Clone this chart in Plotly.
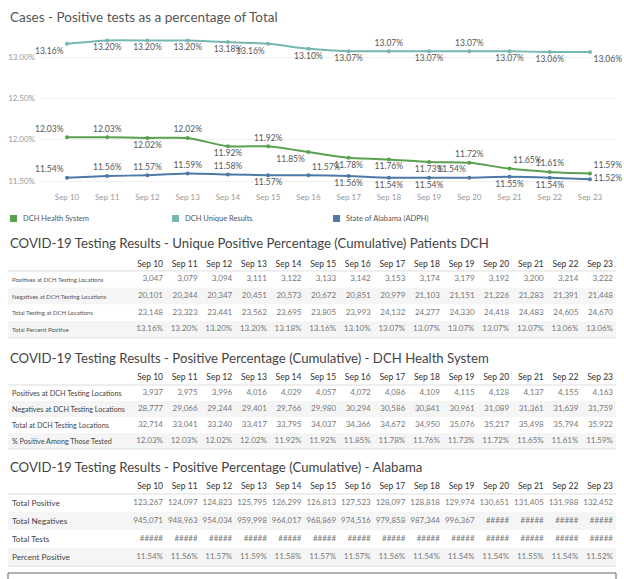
import plotly.graph_objects as go

W, H = 624, 579
FONT = "Lato"

# ---------------- data ----------------
dates = ["Sep 10", "Sep 11", "Sep 12", "Sep 13", "Sep 14", "Sep 15", "Sep 16",
         "Sep 17", "Sep 18", "Sep 19", "Sep 20", "Sep 21", "Sep 22", "Sep 23"]

dch_health_pct = [12.03, 12.03, 12.02, 12.02, 11.92, 11.92, 11.85, 11.78, 11.76, 11.73, 11.72, 11.65, 11.61, 11.59]
dch_unique_pct = [13.16, 13.20, 13.20, 13.20, 13.18, 13.16, 13.10, 13.07, 13.07, 13.07, 13.07, 13.07, 13.06, 13.06]
alabama_pct = [11.54, 11.56, 11.57, 11.59, 11.58, 11.57, 11.57, 11.56, 11.54, 11.54, 11.54, 11.55, 11.54, 11.52]

y_ticks = [11.5, 12.0, 12.5, 13.0]

# Table 1 - unique patients DCH
t1_positives = [3047, 3079, 3094, 3111, 3122, 3133, 3142, 3153, 3174, 3179, 3192, 3200, 3214, 3222]
t1_negatives = [20101, 20244, 20347, 20451, 20573, 20672, 20851, 20979, 21103, 21151, 21226, 21283, 21391, 21448]
t1_total = [23148, 23323, 23441, 23562, 23695, 23805, 23993, 24132, 24277, 24330, 24418, 24483, 24605, 24670]

# Table 2 - DCH Health System
t2_positives = [3937, 3975, 3996, 4016, 4029, 4057, 4072, 4086, 4109, 4115, 4128, 4137, 4155, 4163]
t2_negatives = [28777, 29066, 29244, 29401, 29766, 29980, 30294, 30586, 30841, 30961, 31089, 31361, 31639, 31759]
t2_total = [32714, 33041, 33240, 33417, 33795, 34037, 34366, 34672, 34950, 35076, 35217, 35498, 35794, 35922]

# Table 3 - Alabama (None = value shown as ##### overflow)
t3_positive = [123267, 124097, 124823, 125795, 126299, 126813, 127523, 128097, 128818, 129974, 130651, 131405, 131988, 132452]
t3_negatives = [945071, 948963, 954034, 959998, 964017, 968869, 974516, 979858, 987344, 996367, None, None, None, None]
t3_tests = [None] * 14

t1_labels = ["Positives at DCH Testing Locations", "Negatives at DCH Testing Locations",
             "Total Testing at DCH Locations", "Total Percent Positive"]
t2_labels = ["Positives at DCH Testing Locations", "Negatives at DCH Testing Locations",
             "Total at DCH Testing Locations", "% Positive Among Those Tested"]
t3_labels = ["Total Positive", "Total Negatives", "Total Tests", "Percent Positive"]

titles = ["Cases - Positive tests as a percentage of Total",
          "COVID-19 Testing Results - Unique Positive Percentage (Cumulative) Patients DCH",
          "COVID-19 Testing Results - Positive Percentage (Cumulative) - DCH Health System",
          "COVID-19 Testing Results - Positive Percentage (Cumulative) - Alabama"]

legend_names = ["DCH Health System", "DCH Unique Results", "State of Alabama (ADPH)"]

# ---------------- styling ----------------
GREEN, TEAL, BLUE = "#59a14f", "#76b7b2", "#4e79a7"


def fx(p):
    return p / W


def fy(p):
    return 1 - p / H


def fmt_int(v):
    return "#####" if v is None else f"{v:,}"


def fmt_pct(v):
    return f"{v:.2f}%"


fig = go.Figure()

# ---------------- line chart ----------------
series = [
    (dch_unique_pct, TEAL, ["bottom left", "bottom center", "bottom center", "bottom center", "bottom center",
                            "bottom left", "bottom center", "bottom center", "top center", "bottom center",
                            "top center", "bottom center", "bottom center", "bottom right"]),
    (dch_health_pct, GREEN, ["top left", "top center", "bottom center", "top center", "bottom center",
                             "top center", "bottom left", "bottom center", "bottom center", "bottom center",
                             "top center", "top right", "top center", "top right"]),
    (alabama_pct, BLUE, ["top left", "top center", "top center", "top center", "top center",
                         "bottom center", "top right", "bottom center", "bottom center", "bottom center",
                         "top left", "bottom center", "bottom center", "middle right"]),
]
for vals, col, pos in series:
    fig.add_trace(go.Scatter(
        x=dates, y=vals, mode="lines+markers+text",
        text=[fmt_pct(v) for v in vals], textposition=pos,
        textfont=dict(family=FONT, size=8.5, color="#555555"),
        line=dict(color=col, width=2, shape="spline", smoothing=0.6),
        marker=dict(color=col, size=4),
        cliponaxis=False, showlegend=False, hoverinfo="skip",
        xaxis="x", yaxis="y",
    ))

# chart axes geometry (pixel layout)
plot_l, plot_r, plot_t, plot_b = 40, 616, 30, 188
x0_px, step_px = 67, (590 - 67) / 13
y13_px, y115_px = 57, 181
ppu = (y115_px - y13_px) / 1.5
fig.update_layout(
    xaxis=dict(domain=[fx(plot_l), fx(plot_r)], type="category",
               range=[(plot_l - x0_px) / step_px, (plot_r - x0_px) / step_px],
               showgrid=False, zeroline=False, showline=False, ticks="",
               ticklabelstandoff=3,
               tickfont=dict(family=FONT, size=8, color="#999999"), fixedrange=True),
    yaxis=dict(domain=[fy(plot_b), fy(plot_t)],
               range=[11.5 - (plot_b - y115_px) / ppu, 13.0 + (y13_px - plot_t) / ppu],
               tickvals=y_ticks, ticktext=[fmt_pct(v) for v in y_ticks],
               showgrid=True, gridcolor="#f0f0f0", zeroline=False, showline=False, ticks="",
               ticklabelstandoff=4,
               tickfont=dict(family=FONT, size=8, color="#999999"), fixedrange=True),
)

# ---------------- tables ----------------
col_right0, col_step = 163, (613 - 163) / 13
tables = [
    dict(labels=t1_labels, rows=[[fmt_int(v) for v in t1_positives], [fmt_int(v) for v in t1_negatives],
                                 [fmt_int(v) for v in t1_total], [fmt_pct(v) for v in dch_unique_pct]],
         header_px=265, row1_px=279.3, step=16.7, label_size=6, label_color="#555555"),
    dict(labels=t2_labels, rows=[[fmt_int(v) for v in t2_positives], [fmt_int(v) for v in t2_negatives],
                                 [fmt_int(v) for v in t2_total], [fmt_pct(v) for v in dch_health_pct]],
         header_px=378, row1_px=393, step=16.0, label_size=7.2, label_color="#444444"),
    dict(labels=t3_labels, rows=[[fmt_int(v) for v in t3_positive], [fmt_int(v) for v in t3_negatives],
                                 [fmt_int(v) for v in t3_tests], [fmt_pct(v) for v in alabama_pct]],
         header_px=487, row1_px=503, step=18.0, label_size=8.2, label_color="#444444"),
]

shapes = []
annotations = []
for k, t in enumerate(tables):
    xa, ya = f"x{k + 2}", f"y{k + 2}"
    step = t["step"]
    hdr_idx = 1 - (t["row1_px"] - t["header_px"]) / step
    fig.update_layout({
        f"xaxis{k + 2}": dict(domain=[0, 1], type="category", visible=False, fixedrange=True,
                              range=[-col_right0 / col_step, (W - col_right0) / col_step]),
        f"yaxis{k + 2}": dict(domain=[0, 1], visible=False, fixedrange=True,
                              range=[1 + (H - t["row1_px"]) / step, 1 - t["row1_px"] / step]),
    })
    # header
    fig.add_trace(go.Scatter(x=dates, y=[hdr_idx] * len(dates), mode="text", text=dates,
                             textposition="middle left",
                             textfont=dict(family=FONT, size=8.5, color="#333333"),
                             xaxis=xa, yaxis=ya, showlegend=False, hoverinfo="skip", cliponaxis=False))
    for r, (lab, row) in enumerate(zip(t["labels"], t["rows"]), start=1):
        fig.add_trace(go.Scatter(x=dates, y=[r] * len(dates), mode="text", text=row,
                                 textposition="middle left",
                                 textfont=dict(family=FONT, size=8, color="#777777"),
                                 xaxis=xa, yaxis=ya, showlegend=False, hoverinfo="skip", cliponaxis=False))
        annotations.append(dict(xref="paper", yref=ya, x=fx(10), y=r, text=lab, showarrow=False,
                                xanchor="left", yanchor="middle",
                                font=dict(family=FONT, size=t["label_size"], color=t["label_color"])))
        if r % 2 == 0:
            shapes.append(dict(type="rect", xref="paper", yref=ya, x0=fx(8), x1=fx(616),
                               y0=r - 0.5, y1=r + 0.5, fillcolor="#f5f5f5", line=dict(width=0),
                               layer="below"))
    for yy in (0.5, len(t["rows"]) + 0.5):
        shapes.append(dict(type="line", xref="paper", yref=ya, x0=fx(8), x1=fx(616), y0=yy, y1=yy,
                           line=dict(color="#dddddd", width=1), layer="below"))

# titles
title_px = [17, 243, 358, 467]
title_sizes = [13.5, 13.2, 13.2, 13.2]
title_colors = ["#555555", "#444444", "#444444", "#444444"]
for txt, ypx, sz, c in zip(titles, title_px, title_sizes, title_colors):
    annotations.append(dict(xref="paper", yref="paper", x=fx(8), y=fy(ypx), text=txt, showarrow=False,
                            xanchor="left", yanchor="middle", font=dict(family=FONT, size=sz, color=c)))

# legend
leg_x = [10, 172, 333]
for name, col, lx in zip(legend_names, [GREEN, TEAL, BLUE], leg_x):
    shapes.append(dict(type="rect", xref="paper", yref="paper", x0=fx(lx), x1=fx(lx + 7),
                       y0=fy(222), y1=fy(215), fillcolor=col, line=dict(width=0)))
    annotations.append(dict(xref="paper", yref="paper", x=fx(lx + 11), y=fy(218.5), text=name,
                            showarrow=False, xanchor="left", yanchor="middle",
                            font=dict(family=FONT, size=7.5, color="#555555")))

# partially visible box at the bottom
shapes.append(dict(type="rect", xref="paper", yref="paper", x0=fx(8), x1=fx(616), y0=fy(585), y1=fy(573),
                   line=dict(color="#666666", width=1), fillcolor="rgba(0,0,0,0)"))

fig.update_layout(
    width=W, height=H, margin=dict(l=0, r=0, t=0, b=0),
    paper_bgcolor="white", plot_bgcolor="rgba(0,0,0,0)",
    shapes=shapes, annotations=annotations, showlegend=False,
    font=dict(family=FONT),
)

fig.write_html("out.html", config={"displayModeBar": False},
               post_script="document.body.style.margin='0';document.body.style.overflow='hidden';")
